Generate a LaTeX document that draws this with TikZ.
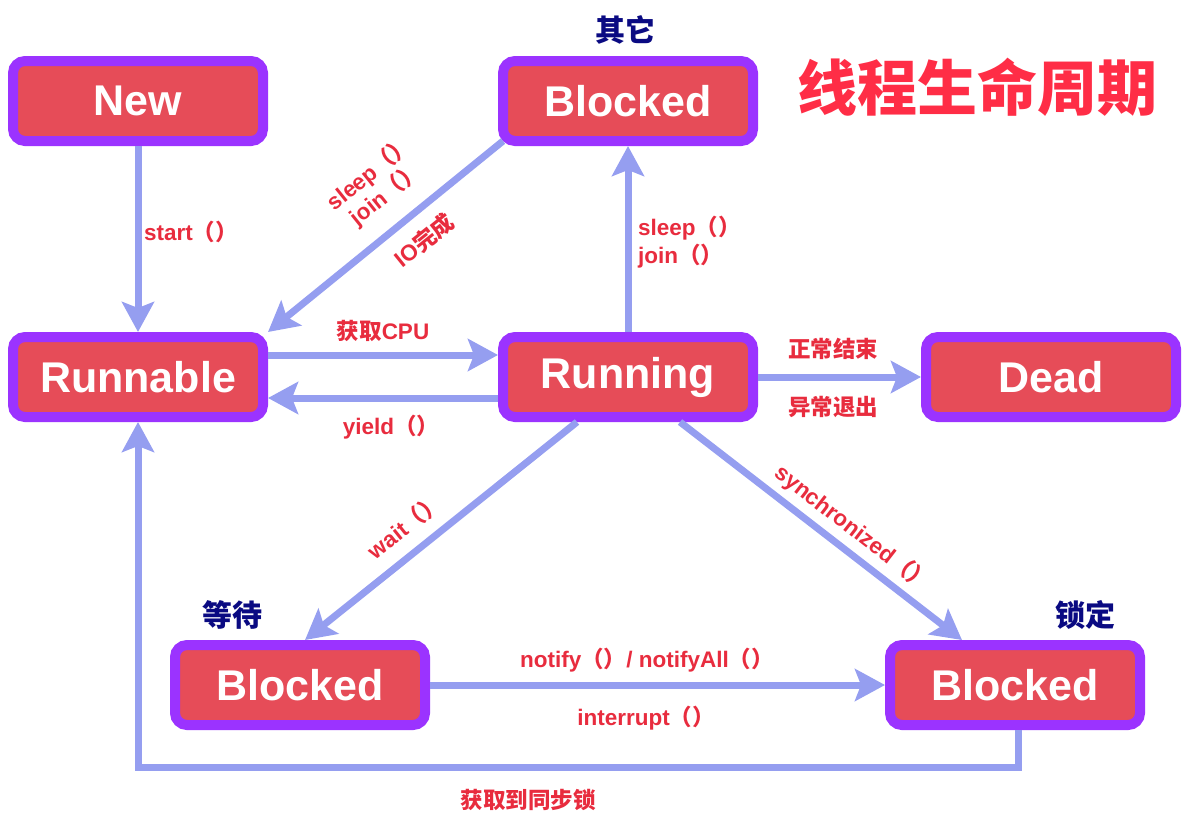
\documentclass[tikz,border=0pt]{standalone}
\usepackage{fontspec}
\setmainfont{Liberation Sans}
\newfontfamily\cjk{Noto Sans CJK SC}
\usetikzlibrary{arrows.meta,positioning,calc}
\definecolor{stateframe}{RGB}{155,51,255}
\definecolor{statefill}{RGB}{230,76,88}
\definecolor{flowline}{RGB}{149,158,240}
\definecolor{flowtext}{RGB}{232,44,62}
\definecolor{tagtext}{RGB}{10,10,130}
\definecolor{titletext}{RGB}{255,45,70}
\newcommand{\cj}[1]{{\cjk #1}}

\begin{document}
\begin{tikzpicture}[x=1pt,y=-1pt,
  box/.style={
    draw=stateframe,
    fill=statefill,
    line width=10pt,
    rounded corners=12pt,
    minimum width=250pt,
    minimum height=80pt,
    outer sep=5pt,
    text=white,
    font=\fontsize{43}{48}\selectfont\bfseries
  },
  arrow/.style={-{Stealth[length=30pt,width=32pt,inset=6pt]}, line width=7pt, draw=flowline},
  lbl/.style={text=flowtext, font=\fontsize{22.5}{26}\selectfont\bfseries, inner sep=0pt},
  tag/.style={text=tagtext, font=\cjk\fontsize{30}{34}\selectfont\bfseries}
]
\useasboundingbox (0,0) rectangle (1196,830);

\node[box] (newst) at (138,101) {New};
\node[box] (blockedtop) at (628,101) {Blocked};
\node[box] (runnable) at (138,377) {Runnable};
\node[box] (running) at (628,377) {Running};
\node[box] (dead) at (1051,377) {Dead};
\node[box] (waiting) at (300,685) {Blocked};
\node[box] (locked) at (1015,685) {Blocked};

\node[tag] (othertag) at (625,30) {其它};
\node[tag] (waittag) at (232,615) {等待};
\node[tag] (locktag) at (1085,615) {锁定};
\node[text=titletext, font=\cjk\fontsize{60}{64}\selectfont\bfseries] (title) at (977,87) {线程生命周期};

\draw[arrow] (newst) -- (runnable);
\draw[arrow] ([xshift=5pt,yshift=5pt]blockedtop.south west) -- (runnable.north east);
\draw[arrow] (running) -- (blockedtop);
\draw[arrow] ([yshift=22pt]runnable.east) -- ([yshift=22pt]running.west);
\draw[arrow] ([yshift=-21pt]running.west) -- ([yshift=-21pt]runnable.east);
\draw[arrow] (running) -- (dead);
\draw[arrow] ([xshift=-51pt]running.south) -- ([xshift=5pt]waiting.north);
\draw[arrow] ([xshift=52pt]running.south) -- ([xshift=-53pt]locked.north);
\draw[arrow] (waiting) -- (locked);
\draw[arrow] ([xshift=3pt]locked.south) -- ++(0,37) -| (runnable.south);

% labels on the connectors
\node[lbl] (startlbl) at (191,232) {start\cj{（）}};
\node[lbl, rotate=38.8, align=center] (backlbl) at (378,184) {sleep\cj{（）}\\join\cj{（）}};
\node[lbl, rotate=38.8] (iolbl) at (424,240) {IO\cj{完成}};
\node[lbl, anchor=west, align=left, font=\fontsize{22.5}{28}\selectfont\bfseries] (sleeplbl) at (638,242) {sleep\cj{（）}\\join\cj{（）}};
\node[lbl] (cpulbl) at (383,331) {\cj{获取}CPU};
\node[lbl] (yieldlbl) at (391,427) {yield\cj{（）}};
\node[lbl] (endlbl) at (833,349) {\cj{正常结束}};
\node[lbl] (exclbl) at (833,407) {\cj{异常退出}};
\node[lbl, rotate=38.7] (waitlbl) at (405,526) {wait\cj{（）}};
\node[lbl, rotate=-37.7] (synclbl) at (853,528) {synchronized\cj{（）}};
\node[lbl] (notifylbl) at (647,660) {notify\cj{（）}/ notifyAll\cj{（）}};
\node[lbl] (intlbl) at (646,718) {interrupt\cj{（）}};
\node[lbl] (locklbl) at (528,800) {\cj{获取到同步锁}};
\end{tikzpicture}
\end{document}
